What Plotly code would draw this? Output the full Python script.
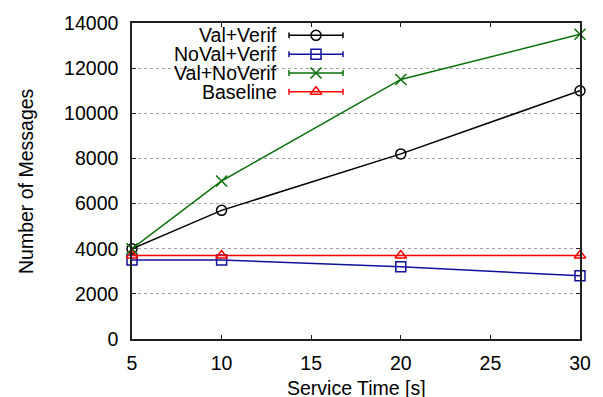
import plotly.graph_objects as go

service_time = [5, 10, 20, 30]
val_verif = [4000, 5700, 8200, 11000]
noval_verif = [3500, 3500, 3200, 2800]
val_noverif = [4000, 7000, 11500, 13500]
baseline = [3700, 3700, 3700, 3700]

series_names = ["Val+Verif", "NoVal+Verif", "Val+NoVerif", "Baseline"]
series_values = [val_verif, noval_verif, val_noverif, baseline]
colors = ["#000000", "#10109a", "#0a700a", "#ff0000"]
symbols = ["circle-open", "square-open", "x-thin-open", "triangle-up-open"]

x_ticks = [5, 10, 15, 20, 25, 30]
y_ticks = [0, 2000, 4000, 6000, 8000, 10000, 12000, 14000]

FONT = "Liberation Sans, Arial, Helvetica, sans-serif"
FS = 19.5

W, H = 603, 397
L, R, T, B = 132, 23, 20, 57.5
PW, PH = W - L - R, H - T - B

def px_x(p):
    return (p - L) / PW

def px_y(p):
    return (H - B - p) / PH

fig = go.Figure()

for name, vals, c, s in zip(series_names, series_values, colors, symbols):
    fig.add_trace(go.Scatter(
        x=service_time, y=vals, mode="lines+markers", name=name,
        line=dict(color=c, width=1.5),
        marker=dict(symbol=s, size=10 if "x" not in s else 11, color=c,
                    line=dict(color=c, width=1.5)),
        showlegend=False, cliponaxis=False,
    ))

shapes = []
annotations = []

# legend background (covers gridlines)
shapes.append(dict(type="rect", xref="paper", yref="paper",
                   x0=px_x(143), x1=px_x(353), y0=px_y(102), y1=px_y(21.5),
                   fillcolor="white", line=dict(width=0), layer="between"))

rows_px = [32.5, 51.5, 70.5, 89.5]
lx0, lx1, lm = 289, 343, 316
for name, c, s, ry in zip(series_names, colors, symbols, rows_px):
    yy = px_y(ry)
    annotations.append(dict(text=name, xref="paper", yref="paper",
                            x=px_x(279), y=yy, xanchor="right", yanchor="middle",
                            showarrow=False, font=dict(family=FONT, size=FS, color="black")))
    shapes.append(dict(type="line", xref="paper", yref="paper",
                       x0=px_x(lx0), x1=px_x(lx1), y0=yy, y1=yy,
                       line=dict(color=c, width=1.5), layer="above"))
    for xe in (lx0, lx1):
        shapes.append(dict(type="line", xref="paper", yref="paper",
                           x0=px_x(xe), x1=px_x(xe), y0=yy - 3 / PH, y1=yy + 3 / PH,
                           line=dict(color=c, width=1.5), layer="above"))
    fig.add_trace(go.Scatter(
        x=[px_x(lm)], y=[yy], xaxis="x2", yaxis="y2", mode="markers",
        marker=dict(symbol=s, size=10 if "x" not in s else 11, color=c,
                    line=dict(color=c, width=1.5)),
        showlegend=False, hoverinfo="skip", cliponaxis=False,
    ))

annotations.append(dict(text="Service Time [s]", xref="paper", yref="paper",
                        x=0.5, y=px_y(389), xanchor="center", yanchor="middle",
                        showarrow=False, font=dict(family=FONT, size=FS, color="black")))
annotations.append(dict(text="Number of Messages", xref="paper", yref="paper",
                        x=px_x(26), y=0.5, xanchor="center", yanchor="middle",
                        textangle=-90, showarrow=False,
                        font=dict(family=FONT, size=FS, color="black")))

fig.update_layout(
    width=W, height=H,
    margin=dict(l=L, r=R, t=T, b=B, pad=0),
    paper_bgcolor="white", plot_bgcolor="white",
    font=dict(family=FONT, size=FS, color="black"),
    shapes=shapes, annotations=annotations,
    xaxis=dict(range=[5, 30], tickvals=x_ticks, ticktext=[str(v) for v in x_ticks],
               showgrid=False, zeroline=False, showline=True, linecolor="#202020",
               linewidth=1.5, mirror="ticks", ticks="inside", ticklen=4, tickwidth=1,
               tickcolor="#202020", ticklabelstandoff=6),
    yaxis=dict(range=[0, 14000], tickvals=y_ticks, ticktext=[str(v) for v in y_ticks],
               showgrid=True, gridcolor="#a0a0a0", griddash="dot", gridwidth=1,
               zeroline=False, showline=True, linecolor="#202020", linewidth=1.5,
               mirror="ticks", ticks="inside", ticklen=4, tickwidth=1,
               tickcolor="#202020", ticklabelstandoff=8),
    xaxis2=dict(range=[0, 1], overlaying="x", visible=False, fixedrange=True),
    yaxis2=dict(range=[0, 1], overlaying="y", visible=False, fixedrange=True),
)

fig.write_html("out.html")
